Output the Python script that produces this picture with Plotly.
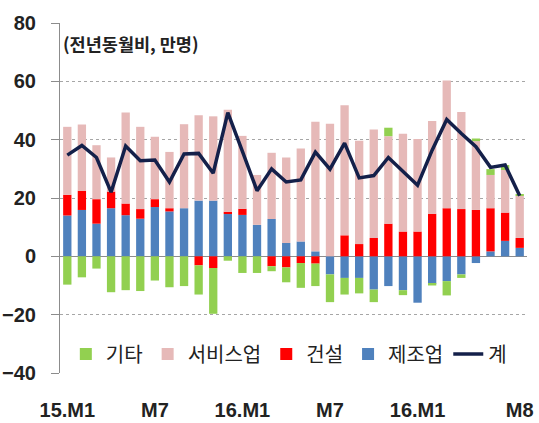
import plotly.graph_objects as go

months = ["15.01", "15.02", "15.03", "15.04", "15.05", "15.06", "15.07", "15.08",
          "15.09", "15.10", "15.11", "15.12", "16.01", "16.02", "16.03", "16.04",
          "16.05", "16.06", "16.07", "16.08", "16.09", "16.10", "16.11", "16.12",
          "17.01", "17.02", "17.03", "17.04", "17.05", "17.06", "17.07", "17.08"]

manufacturing = [14.0, 15.9, 11.2, 16.5, 14.1, 12.9, 16.9, 15.4, 16.5, 19.1, 19.1, 14.5,
                 14.2, 10.8, 12.8, 4.6, 5.1, 1.7, -6.2, -7.4, -7.4, -11.4, -10.2, -11.6,
                 -15.9, -9.4, -8.5, -6.2, -2.3, 1.7, 5.3, 2.9]
construction = [7.1, 6.6, 8.4, 5.7, 4.0, 3.3, 2.7, 1.1, 0.0, -3.1, -4.0, 0.8,
                2.1, 0.0, -3.4, -3.8, -2.3, -2.5, 0.0, 7.2, 4.2, 6.3, 11.2, 8.5,
                8.5, 14.6, 16.5, 16.2, 15.9, 14.8, 9.7, 3.4]
services = [23.3, 22.7, 18.5, 11.7, 31.2, 28.2, 21.4, 19.3, 28.8, 29.3, 28.9, 35.0,
            25.0, 17.1, 22.7, 29.3, 31.9, 44.4, 45.5, 44.6, 35.4, 37.2, 30.0, 33.5,
            31.7, 31.8, 43.8, 33.3, 23.6, 11.4, 14.6, 14.4]
others = [-9.7, -7.2, -4.2, -12.3, -11.6, -11.9, -8.3, -10.6, -10.2, -10.0, -15.7, -1.5,
          -5.7, -5.7, -1.7, -5.1, -8.5, -7.7, -9.5, -5.7, -5.3, -4.3, 2.9, -1.7,
          0.0, -0.6, -4.9, -1.2, 0.9, 2.0, 1.7, 0.4]
total = [34.7, 38.0, 33.9, 22.0, 37.8, 32.8, 33.0, 25.5, 35.1, 35.3, 28.5, 49.3,
         36.0, 22.5, 30.0, 25.5, 26.2, 35.7, 29.9, 38.8, 26.9, 27.7, 33.9, 29.0,
         24.4, 36.4, 46.9, 42.1, 37.6, 30.5, 31.3, 20.8]

tick_months = ["15.01", "15.07", "16.01", "16.07", "17.01", "17.08"]
tick_labels = ["15.M1", "M7", "16.M1", "M7", "16.M1", "M8"]

C_GREEN = "#92D050"
C_PINK = "#E6B9B8"
C_RED = "#FF0000"
C_BLUE = "#4F81BD"
C_LINE = "#14204A"

KFONT = "Noto Sans CJK KR"
NFONT = "Liberation Sans, Arial, " + KFONT

fig = go.Figure()
fig.add_trace(go.Bar(x=months, y=manufacturing, name="제조업", marker_color=C_BLUE,
                     marker_line_width=0, legendrank=4))
fig.add_trace(go.Bar(x=months, y=construction, name="건설", marker_color=C_RED,
                     marker_line_width=0, legendrank=3))
fig.add_trace(go.Bar(x=months, y=services, name="서비스업", marker_color=C_PINK,
                     marker_line_width=0, legendrank=2))
fig.add_trace(go.Bar(x=months, y=others, name="기타", marker_color=C_GREEN,
                     marker_line_width=0, legendrank=1))
fig.add_trace(go.Scatter(x=months, y=total, name="계", mode="lines",
                         line=dict(color=C_LINE, width=3.5), legendrank=5))

fig.update_layout(
    width=539, height=423,
    margin=dict(l=60, r=12, t=23, b=50, autoexpand=False),
    barmode="relative",
    bargap=0.43,
    plot_bgcolor="white",
    paper_bgcolor="white",
    showlegend=True,
    legend=dict(orientation="h", x=0.49, xanchor="center", y=0.054, yanchor="middle",
                font=dict(family=KFONT, size=20, color="#222222"),
                bgcolor="rgba(0,0,0,0)", itemwidth=30, traceorder="normal"),
    annotations=[dict(text="(전년동월비, 만명)", xref="paper", yref="paper",
                      x=0.002, y=0.942, xanchor="left", yanchor="middle",
                      showarrow=False,
                      font=dict(family=KFONT, size=17.5, color="#222222", weight="bold"))],
)

fig.update_xaxes(
    type="category",
    range=[-0.5, 31.5],
    automargin=False,
    tickmode="array", tickvals=tick_months, ticktext=tick_labels,
    tickangle=0,
    showgrid=False, showline=False, ticks="",
    ticklabelstandoff=23,
    ticklabeloverflow="allow",
    tickfont=dict(family=NFONT, size=20, color="#222222", weight="bold"),
)
fig.update_yaxes(
    range=[-40, 80],
    automargin=False,
    tickmode="array", tickvals=[-40, -20, 0, 20, 40, 60, 80],
    showgrid=True, gridcolor="#A6A6A6", griddash="dot", gridwidth=1,
    zeroline=True, zerolinecolor="#8C8C8C", zerolinewidth=1,
    showline=True, linecolor="#8C8C8C", linewidth=1,
    ticks="outside", ticklen=8, tickcolor="#8C8C8C",
    ticklabelstandoff=11,
    ticklabeloverflow="allow",
    tickfont=dict(family=NFONT, size=20, color="#222222", weight="bold"),
)

fig.write_html("out.html",
               config={"displayModeBar": False},
               post_script="document.body.style.margin='0';document.body.style.padding='0';")
